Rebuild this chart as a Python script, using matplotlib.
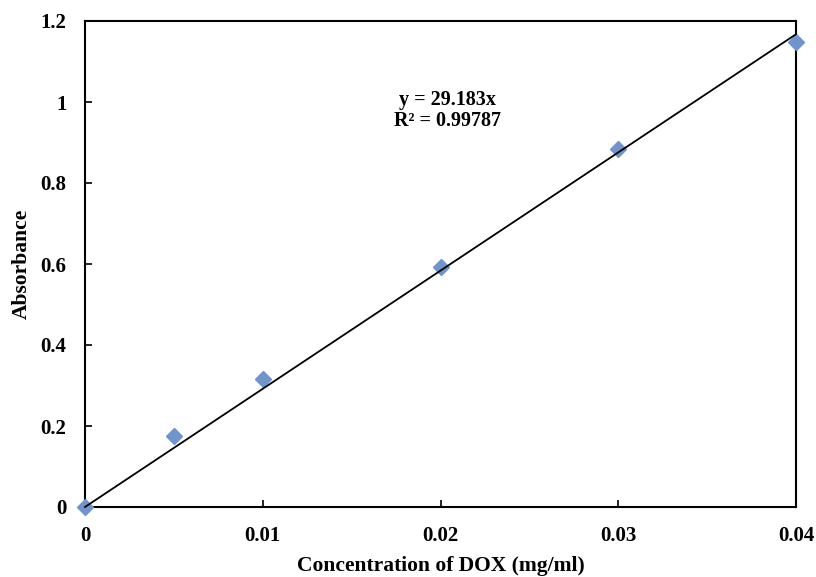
import matplotlib.pyplot as plt
import numpy as np

conc = [0, 0.005, 0.01, 0.02, 0.03, 0.04]
absorbance = [0, 0.175, 0.317, 0.592, 0.885, 1.147]
slope = 29.183
r2 = 0.99787
xticks = [0, 0.01, 0.02, 0.03, 0.04]
xticklabels = ["0", "0.01", "0.02", "0.03", "0.04"]
yticks = [0, 0.2, 0.4, 0.6, 0.8, 1.0, 1.2]
yticklabels = ["0", "0.2", "0.4", "0.6", "0.8", "1", "1.2"]

plt.rcParams["font.family"] = ["Liberation Serif", "DejaVu Serif"]
plt.rcParams["font.weight"] = "bold"

fig = plt.figure(figsize=(8.16, 5.77), dpi=100)
ax = fig.add_axes([85 / 816, 1 - 507 / 577, (796 - 85) / 816, (507 - 21) / 577])

fit_x = np.array([0, 0.04])
ax.plot(fit_x, slope * fit_x, color="black", linewidth=1.3, zorder=4, clip_on=False)
ax.plot(conc, absorbance, linestyle="none", marker="D", markersize=8.5,
        color="#7094cc", markeredgecolor="#7094cc", zorder=3, clip_on=False)

ax.set_xlim(0, 0.04)
ax.set_ylim(0, 1.2)
ax.set_xticks(xticks)
ax.set_xticklabels(xticklabels)
ax.set_yticks(yticks)
ax.set_yticklabels(yticklabels)
ax.tick_params(direction="in", length=5, width=1.2, labelsize=15)
ax.tick_params(axis="x", pad=14)
ax.tick_params(axis="y", pad=13.5)
for s in ax.spines.values():
    s.set_linewidth(1.5)

ax.set_xlabel("Concentration of DOX (mg/ml)", fontsize=15.5, fontweight="bold")
ax.set_ylabel("Absorbance", fontsize=15.5, fontweight="bold")
ax.xaxis.set_label_coords(0.5, -0.1)
ax.yaxis.set_label_coords(-0.0745, 0.5)

# trendline equation, two lines stacked
ax.text(0.02037, 1.004, f"y = {slope}x", ha="center", va="center", fontsize=14.5, fontweight="bold")
ax.text(0.02037, 0.952, f"R² = {r2}", ha="center", va="center", fontsize=14.5, fontweight="bold")

fig.savefig("out.png", dpi=100)
